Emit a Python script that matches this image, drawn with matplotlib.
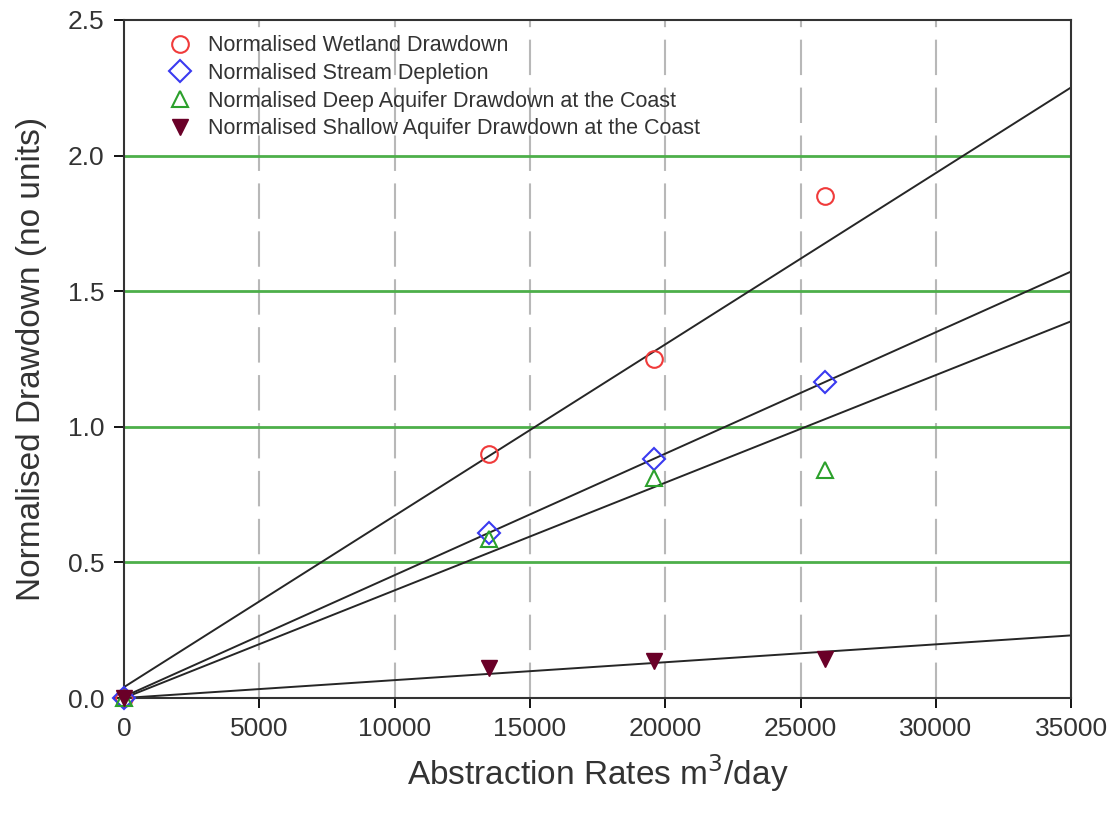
import numpy as np
import matplotlib
matplotlib.use("Agg")
import matplotlib.pyplot as plt

plt.rcParams['font.family'] = ['Liberation Sans', 'DejaVu Sans']

# abstraction rates (m3/day)
rates = [0, 13500, 19600, 25900]

# normalised values
wetland = [0.0, 0.90, 1.25, 1.85]
stream = [0.0, 0.61, 0.88, 1.165]
deep = [0.0, 0.585, 0.81, 0.84]
shallow = [0.0, 0.11, 0.135, 0.145]

# fitted lines: intercept and slope
fit_intercept = [0.04, 0.005, 0.0, 0.0]
fit_slope = [6.32e-5, 4.48e-5, 3.97e-5, 6.6e-6]

labels = ['Normalised Wetland Drawdown',
          'Normalised Stream Depletion',
          'Normalised Deep Aquifer Drawdown at the Coast',
          'Normalised Shallow Aquifer Drawdown at the Coast']

x_ticks = [0, 5000, 10000, 15000, 20000, 25000, 30000, 35000]
y_ticks = [0.0, 0.5, 1.0, 1.5, 2.0, 2.5]

fig = plt.figure(figsize=(11.16, 8.19), dpi=100)
ax = fig.add_axes([0.111, 0.1477, 0.849, 0.8279])

ax.set_xlim(0, 35000)
ax.set_ylim(0, 2.5)

# grid: dashed grey verticals, solid green horizontals
for xv in x_ticks[1:-1]:
    ax.axvline(xv, color='#b8b8b8', lw=1.5, dashes=(17, 6), zorder=1)
for yv in y_ticks[1:-1]:
    ax.axhline(yv, color='#4daf4a', lw=2, zorder=1)

# fitted lines
xx = np.array(ax.get_xlim())
for b, m in zip(fit_intercept, fit_slope):
    ax.plot(xx, b + m * xx, color='#262626', lw=1.4, zorder=2)

ax.plot(rates, wetland, 'o', ls='none', ms=12, mfc='none', mec='#f03a3a',
        mew=1.5, label=labels[0], zorder=3, clip_on=False)
ax.plot(rates, stream, 'D', ls='none', ms=11, mfc='none', mec='#3a3af0',
        mew=1.5, label=labels[1], zorder=3, clip_on=False)
ax.plot(rates, deep, '^', ls='none', ms=12, mfc='none', mec='#2ca02c',
        mew=1.5, label=labels[2], zorder=3, clip_on=False)
ax.plot(rates, shallow, 'v', ls='none', ms=12, mfc='#6a0028', mec='#6a0028',
        mew=1.0, label=labels[3], zorder=4, clip_on=False)

ax.set_xticks(x_ticks)
ax.set_yticks(y_ticks)
ax.set_yticklabels(['%.1f' % v for v in y_ticks])
ax.tick_params(direction='out', length=7, width=1.3, labelsize=19,
               labelcolor='#333333', pad=7)

for s in ax.spines.values():
    s.set_linewidth(1.5)
    s.set_color('#333333')

ax.set_xlabel('Abstraction Rates m$^3$/day', fontsize=24, color='#333333',
              labelpad=8)
ax.set_ylabel('Normalised Drawdown (no units)', fontsize=24, color='#333333',
              labelpad=15)

leg = ax.legend(loc='upper left', bbox_to_anchor=(0.025, 1.006), frameon=False,
                fontsize=15.5, handletextpad=0.7, labelspacing=0.31,
                handlelength=1.2, labelcolor='#333333')

fig.savefig('out.png', dpi=100)
